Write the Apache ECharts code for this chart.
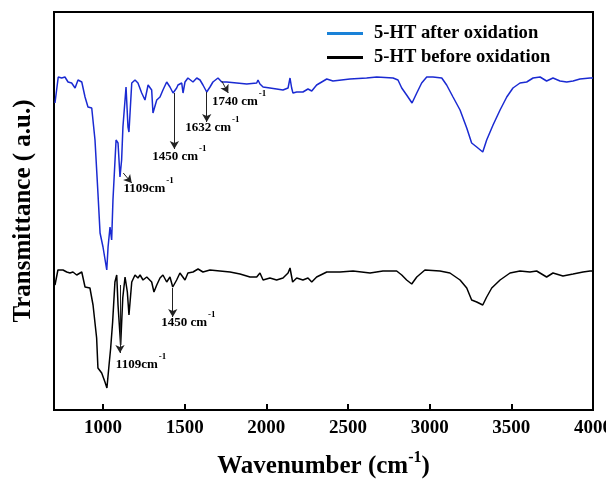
<!DOCTYPE html>
<html><head><meta charset="utf-8">
<script src="https://cdn.jsdelivr.net/npm/echarts@6/dist/echarts.min.js"></script>
<style>html,body{margin:0;padding:0;background:#fff}#c{width:606px;height:484px}</style>
</head><body><div id="c"></div>
<script>
var seriesNames = ['5-HT after oxidation', '5-HT before oxidation'];
var xTicks = [1000, 1500, 2000, 2500, 3000, 3500, 4000];

var afterWn = [706,726,747,767,786,808,829,847,870,890,908,931,951,969,982,1000,1023,1031,1043,1053,1061,1080,1092,1104,1114,1122,1141,1153,1159,1176,1196,1206,1214,1237,1257,1276,1298,1306,1329,1349,1367,1390,1410,1429,1451,1459,1482,1490,1502,1520,1551,1574,1594,1612,1635,1655,1673,1704,1727,1757,1819,1880,1941,1949,1961,1980,2022,2063,2102,2133,2145,2155,2163,2186,2224,2255,2278,2308,2370,2408,2512,2614,2676,2776,2806,2829,2859,2892,2921,2951,2982,3020,3074,3104,3143,3186,3227,3257,3288,3325,3349,3388,3431,3472,3510,3553,3594,3633,3676,3716,3755,3798,3839,3878,3920,3982,4000];
var afterT = [307,333,332,333,328,327,322,330,328,313,303,302,270,217,177,163,140,163,183,170,210,270,267,233,250,283,323,283,278,327,330,332,327,317,310,325,320,297,310,313,320,328,323,317,322,325,327,317,328,332,328,332,330,325,318,323,328,332,328,328,327,326,327,330,326,323,322,321,320,322,332,322,317,318,318,321,319,325,331,329,331,332,333,332,330,322,315,307,317,327,333,333,332,325,313,300,282,267,263,258,270,285,300,313,322,327,328,332,333,329,332,329,328,329,331,332,332];

var beforeWn = [706,724,755,778,798,816,839,870,890,920,939,961,969,992,1012,1024,1037,1047,1059,1073,1084,1092,1108,1121,1135,1149,1159,1176,1196,1214,1227,1245,1268,1298,1312,1329,1349,1367,1390,1410,1427,1451,1471,1482,1502,1520,1551,1582,1612,1655,1716,1778,1839,1900,1941,1961,1980,2022,2063,2102,2133,2145,2161,2186,2224,2255,2278,2308,2370,2451,2531,2635,2714,2798,2829,2859,2890,2921,2971,3063,3124,3186,3227,3257,3288,3325,3349,3380,3431,3492,3553,3614,3655,3716,3755,3816,3878,3939,3982,4000];
var beforeT = [125,140,140,138,137,138,135,138,123,122,105,72,42,37,28,22,45,62,88,128,135,105,65,112,133,118,95,128,135,132,135,130,133,128,118,125,132,135,128,133,123,130,137,137,130,137,138,141,138,140,139,138,136,133,133,137,130,132,130,132,137,142,128,132,130,132,128,133,138,138,139,137,139,139,135,130,126,133,140,139,137,130,122,110,108,105,113,122,130,137,139,138,139,133,137,134,136,138,139,139];

// annotations: [wavenumber label, arrow start [wn,T], arrow end [wn,T], label centre [wn,T]]
var annotAfter = [
  ['1109cm', [1124,237], [1176,227], [1279,221.5]],
  ['1450 cm', [1437,317], [1437,261], [1468,253.5]],
  ['1632 cm', [1635,318], [1635,288], [1670,282]],
  ['1740 cm', [1727,329], [1767,317], [1833,308.5]]
];
var annotBefore = [
  ['1109cm', [1104,125], [1104,57], [1233,45.5]],
  ['1450 cm', [1427,122], [1427,93], [1523,87]]
];

function zip(a, b) { return a.map(function (v, i) { return [v, b[i]]; }); }
var FONT = 'Liberation Serif';

function marks(list) {
  return {
    markLine: {
      silent: true, animation: false,
      symbol: ['none', 'arrow'], symbolSize: [7, 8],
      lineStyle: { color: '#222', width: 1, type: 'solid' },
      label: { show: false },
      data: list.map(function (a) { return [{ coord: a[1] }, { coord: a[2] }]; })
    },
    markPoint: {
      silent: true, animation: false,
      symbol: 'circle', symbolSize: 0,
      label: {
        show: true, position: 'inside',
        rich: {
          a: { fontFamily: FONT, fontWeight: 'bold', fontSize: 13, color: '#000', lineHeight: 13, verticalAlign: 'bottom' },
          s: { fontFamily: FONT, fontWeight: 'bold', fontSize: 9, color: '#000', lineHeight: 9, padding: [0, 0, 10, 1], verticalAlign: 'bottom' }
        }
      },
      data: list.map(function (a) {
        return { coord: a[3], label: { formatter: '{a|' + a[0] + '}{s|-1}' } };
      })
    }
  };
}

var chart = echarts.init(document.getElementById('c'), null, { renderer: 'canvas' });
var s1 = Object.assign({
  name: seriesNames[0], type: 'line', showSymbol: false, animation: false,
  lineStyle: { color: '#1a2ad2', width: 1.5 }, itemStyle: { color: '#1a2ad2' },
  data: zip(afterWn, afterT)
}, marks(annotAfter));
var s2 = Object.assign({
  name: seriesNames[1], type: 'line', showSymbol: false, animation: false,
  lineStyle: { color: '#000', width: 1.5 }, itemStyle: { color: '#000' },
  data: zip(beforeWn, beforeT)
}, marks(annotBefore));

chart.setOption({
  backgroundColor: '#fff',
  animation: false,
  grid: { left: 54, right: 13, top: 12, bottom: 74, show: true, borderColor: '#000', borderWidth: 2,
    backgroundColor: 'transparent', outerBoundsMode: 'none', containLabel: false },
  legend: {
    orient: 'vertical', left: 322, top: 19, itemWidth: 36, itemHeight: 3, itemGap: 5,
    icon: 'rect',
    textStyle: { fontFamily: FONT, fontWeight: 'bold', fontSize: 18.6, color: '#000', lineHeight: 18, padding: [0, 0, 0, 6] },
    data: [
      { name: seriesNames[0], itemStyle: { color: '#1a82d8' } },
      { name: seriesNames[1], itemStyle: { color: '#000' } }
    ]
  },
  xAxis: {
    type: 'value', min: 700, max: 4000,
    name: '{a|Wavenumber (cm}{s|-1}{a|)}', nameLocation: 'middle', nameGap: 44,
    nameTextStyle: {
      rich: {
        a: { fontFamily: FONT, fontWeight: 'bold', fontSize: 25, color: '#000', lineHeight: 25, verticalAlign: 'bottom' },
        s: { fontFamily: FONT, fontWeight: 'bold', fontSize: 16, color: '#000', lineHeight: 16, padding: [0, 0, 13, 0], verticalAlign: 'bottom' }
      }
    },
    axisLine: { show: true, lineStyle: { color: '#000', width: 2 } },
    axisTick: { show: true, inside: true, length: 6, lineStyle: { color: '#000', width: 2 }, customValues: xTicks },
    axisLabel: { show: true, margin: 9, fontFamily: FONT, fontWeight: 'bold', fontSize: 19, color: '#000', customValues: xTicks,
      formatter: function (v) { return String(v); } },
    splitLine: { show: false }
  },
  yAxis: {
    type: 'value', min: 0, max: 398,
    name: 'Transmittance ( a.u.)', nameLocation: 'middle', nameGap: 18, nameRotate: 90,
    nameTextStyle: { fontFamily: FONT, fontWeight: 'bold', fontSize: 25, color: '#000' },
    axisLine: { show: true, lineStyle: { color: '#000', width: 2 } },
    axisTick: { show: false }, axisLabel: { show: false }, splitLine: { show: false }
  },
  series: [s1, s2]
});
</script></body></html>
